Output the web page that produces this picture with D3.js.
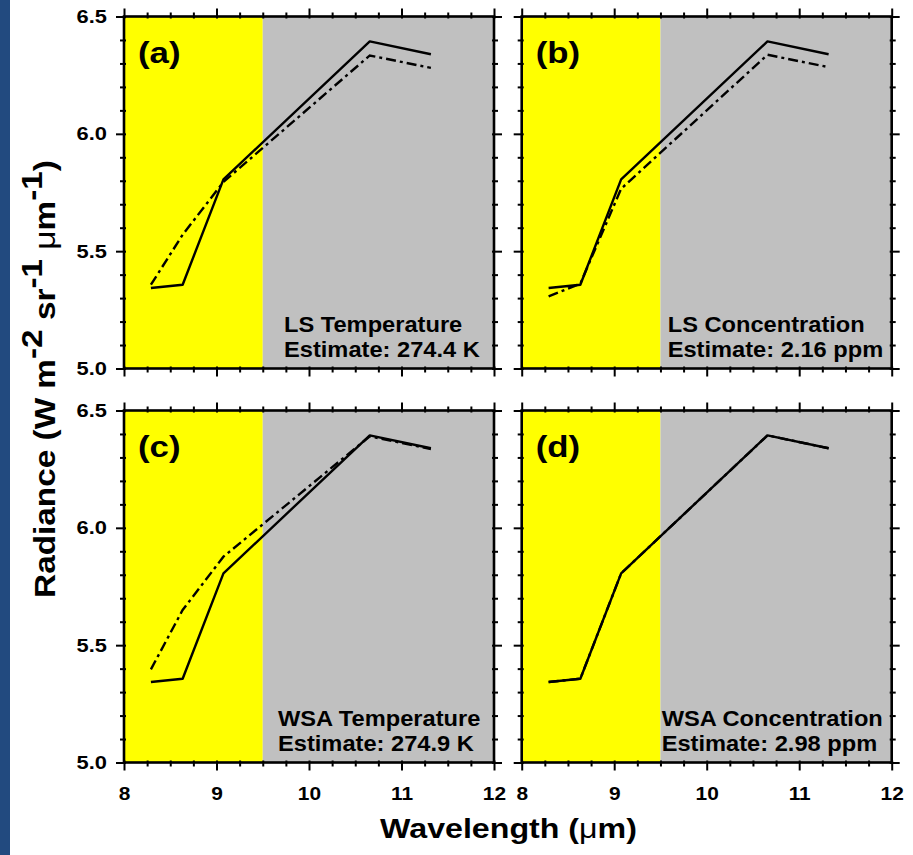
<!DOCTYPE html>
<html>
<head>
<meta charset="utf-8">
<script src="https://cdn.jsdelivr.net/npm/d3@7"></script>
<style>
  body { margin: 0; background: #fff; }
</style>
</head>
<body>
<svg id="chart" width="913" height="855"></svg>
<script>
// ASTER TIR band centres (um) and radiances
const wavelengths = [8.291, 8.634, 9.075, 10.657, 11.318]
const observed = [5.343, 5.357, 5.806, 6.394, 6.339]
const fitA = [5.357, 5.57, 5.795, 6.334, 6.281]
const fitB = [5.307, 5.362, 5.766, 6.337, 6.284]
const fitC = [5.397, 5.65, 5.877, 6.39, 6.336]
const fitD = [5.343, 5.357, 5.806, 6.394, 6.339]
const panelLetters = ["(a)", "(b)", "(c)", "(d)"]
const methodLabels = ["LS Temperature", "LS Concentration", "WSA Temperature", "WSA Concentration"]
const estimateLabels = ["Estimate: 274.4 K", "Estimate: 2.16 ppm", "Estimate: 274.9 K", "Estimate: 2.98 ppm"]
const xTicks = [8, 9, 10, 11, 12]
const yTicks = [5.0, 5.5, 6.0, 6.5]
const bandEdges = [8, 9.5, 12]

const fits = [fitA, fitB, fitC, fitD]
const bandColors = ["#ffff00", "#c0c0c0"]
const font = "'Liberation Sans', Arial, sans-serif"

// layout
const cols = [124, 521.7], colW = 370
const rows = [16.5, 410.5], rowH = 352
const annotX = [160, 146, 154, 140]

const svg = d3.select("#chart")

svg.append("rect")
    .attr("x", 0).attr("y", 0)
    .attr("width", 10).attr("height", 855)
    .attr("fill", "#224a7f")

const xMinor = d3.range(8, 12.001, 0.25).filter(v => !xTicks.includes(v))
const yMinor = d3.range(5, 6.501, 0.1).map(v => +v.toFixed(1)).filter(v => !yTicks.includes(v))

const makers = { left: d3.axisLeft, right: d3.axisRight, top: d3.axisTop, bottom: d3.axisBottom }

// ticks that cross the frame: `outer` outside, `inner` inside
function drawTicks(g, orient, scale, values, outer, inner, shift, fmt) {
    const ax = makers[orient](scale)
        .tickValues(values)
        .tickSizeInner(outer)
        .tickSizeOuter(0)
        .tickFormat(fmt || "")
    const a = g.append("g").attr("transform", shift).call(ax)
    a.select(".domain").remove()
    const sign = (orient === "left" || orient === "top") ? 1 : -1
    const attr = (orient === "left" || orient === "right") ? "x1" : "y1"
    a.selectAll(".tick line")
        .attr(attr, sign * inner)
        .attr("stroke", "#000")
        .attr("stroke-width", 2)
    a.attr("font-family", font).attr("font-size", 19).attr("font-weight", "bold")
    return a
}

fits.forEach((fit, i) => {
    const left = cols[i % 2]
    const top = rows[Math.floor(i / 2)]
    const bottom = top + rowH
    const x = d3.scaleLinear().domain([8, 12]).range([left, left + colW])
    const y = d3.scaleLinear().domain([5, 6.5]).range([bottom, top])
    const g = svg.append("g")

    // wavelength bands
    g.selectAll("rect.band")
        .data(d3.pairs(bandEdges))
        .join("rect")
        .attr("class", "band")
        .attr("x", d => x(d[0]))
        .attr("width", d => x(d[1]) - x(d[0]))
        .attr("y", top)
        .attr("height", rowH)
        .attr("fill", (d, j) => bandColors[j])

    const line = d3.line()
        .x((d, j) => x(wavelengths[j]))
        .y(d => y(d))

    g.append("path")
        .attr("d", line(observed))
        .attr("fill", "none")
        .attr("stroke", "#000")
        .attr("stroke-width", 2.4)
        .attr("stroke-linejoin", "round")

    g.append("path")
        .attr("d", line(fit))
        .attr("fill", "none")
        .attr("stroke", "#000")
        .attr("stroke-width", 2.4)
        .attr("stroke-dasharray", "10,4,3,4")

    // ticks on all four sides
    const showY = i % 2 === 0
    const showX = i >= 2
    const yl = drawTicks(g, "left", y, yTicks, 8, 2, `translate(${left},0)`, showY ? d3.format(".1f") : null)
    drawTicks(g, "left", y, yMinor, 4, 2, `translate(${left},0)`)
    drawTicks(g, "right", y, yTicks, 8, 2, `translate(${left + colW},0)`)
    drawTicks(g, "right", y, yMinor, 4, 2, `translate(${left + colW},0)`)
    drawTicks(g, "top", x, xTicks, 8, 2, `translate(0,${top})`)
    drawTicks(g, "top", x, xMinor, 4, 2, `translate(0,${top})`)
    const xl = drawTicks(g, "bottom", x, xTicks, 8, 2, `translate(0,${bottom})`, showX ? d3.format("d") : null)
    drawTicks(g, "bottom", x, xMinor, 4, 2, `translate(0,${bottom})`)

    yl.selectAll("text")
        .attr("x", null)
        .attr("fill", "#000")
        .attr("transform", "translate(-17,0) scale(1.15,1)")
    xl.selectAll("text")
        .attr("y", 24)
        .attr("fill", "#000")
        .attr("transform", "scale(1.1,1)")

    // frame
    g.append("rect")
        .attr("x", left).attr("y", top)
        .attr("width", colW).attr("height", rowH)
        .attr("fill", "none")
        .attr("stroke", "#000")
        .attr("stroke-width", 2.6)

    g.append("text")
        .attr("transform", `translate(${left + 14},${top + 46}) scale(1.2,1)`)
        .attr("font-family", font).attr("font-size", 29).attr("font-weight", "bold")
        .text(panelLetters[i])

    g.append("text")
        .attr("transform", `translate(${left + annotX[i]},${bottom - 37}) scale(1.1,1)`)
        .attr("font-family", font).attr("font-size", 21.5).attr("font-weight", "bold")
        .text(methodLabels[i])

    g.append("text")
        .attr("transform", `translate(${left + annotX[i]},${bottom - 12}) scale(1.1,1)`)
        .attr("font-family", font).attr("font-size", 21.5).attr("font-weight", "bold")
        .text(estimateLabels[i])
})

// axis titles, stretched to the width they take in the figure
const xTitle = svg.append("text")
    .attr("font-family", font).attr("font-size", 27).attr("font-weight", "bold")
    .attr("text-anchor", "middle")
xTitle.append("tspan").text("Wavelength (")
xTitle.append("tspan").attr("font-weight", "normal").text("μ")
xTitle.append("tspan").text("m)")
const xs = 257 / xTitle.node().getComputedTextLength()
xTitle.attr("transform", `translate(508.5,838) scale(${xs},1)`)

const yTitle = svg.append("text")
    .attr("font-family", font).attr("font-size", 29).attr("font-weight", "bold")
    .attr("text-anchor", "middle")
yTitle.append("tspan").text("Radiance (W m")
yTitle.append("tspan").attr("dy", -13).text("-2")
yTitle.append("tspan").attr("dy", 13).text(" sr")
yTitle.append("tspan").attr("dy", -13).text("-1")
yTitle.append("tspan").attr("dy", 13).attr("font-weight", "normal").text(" μ")
yTitle.append("tspan").text("m")
yTitle.append("tspan").attr("dy", -13).text("-1")
yTitle.append("tspan").attr("dy", 13).text(")")
const ys = 438 / yTitle.node().getComputedTextLength()
yTitle.attr("transform", `translate(55,379) rotate(-90) scale(${ys},1)`)
</script>
</body>
</html>
